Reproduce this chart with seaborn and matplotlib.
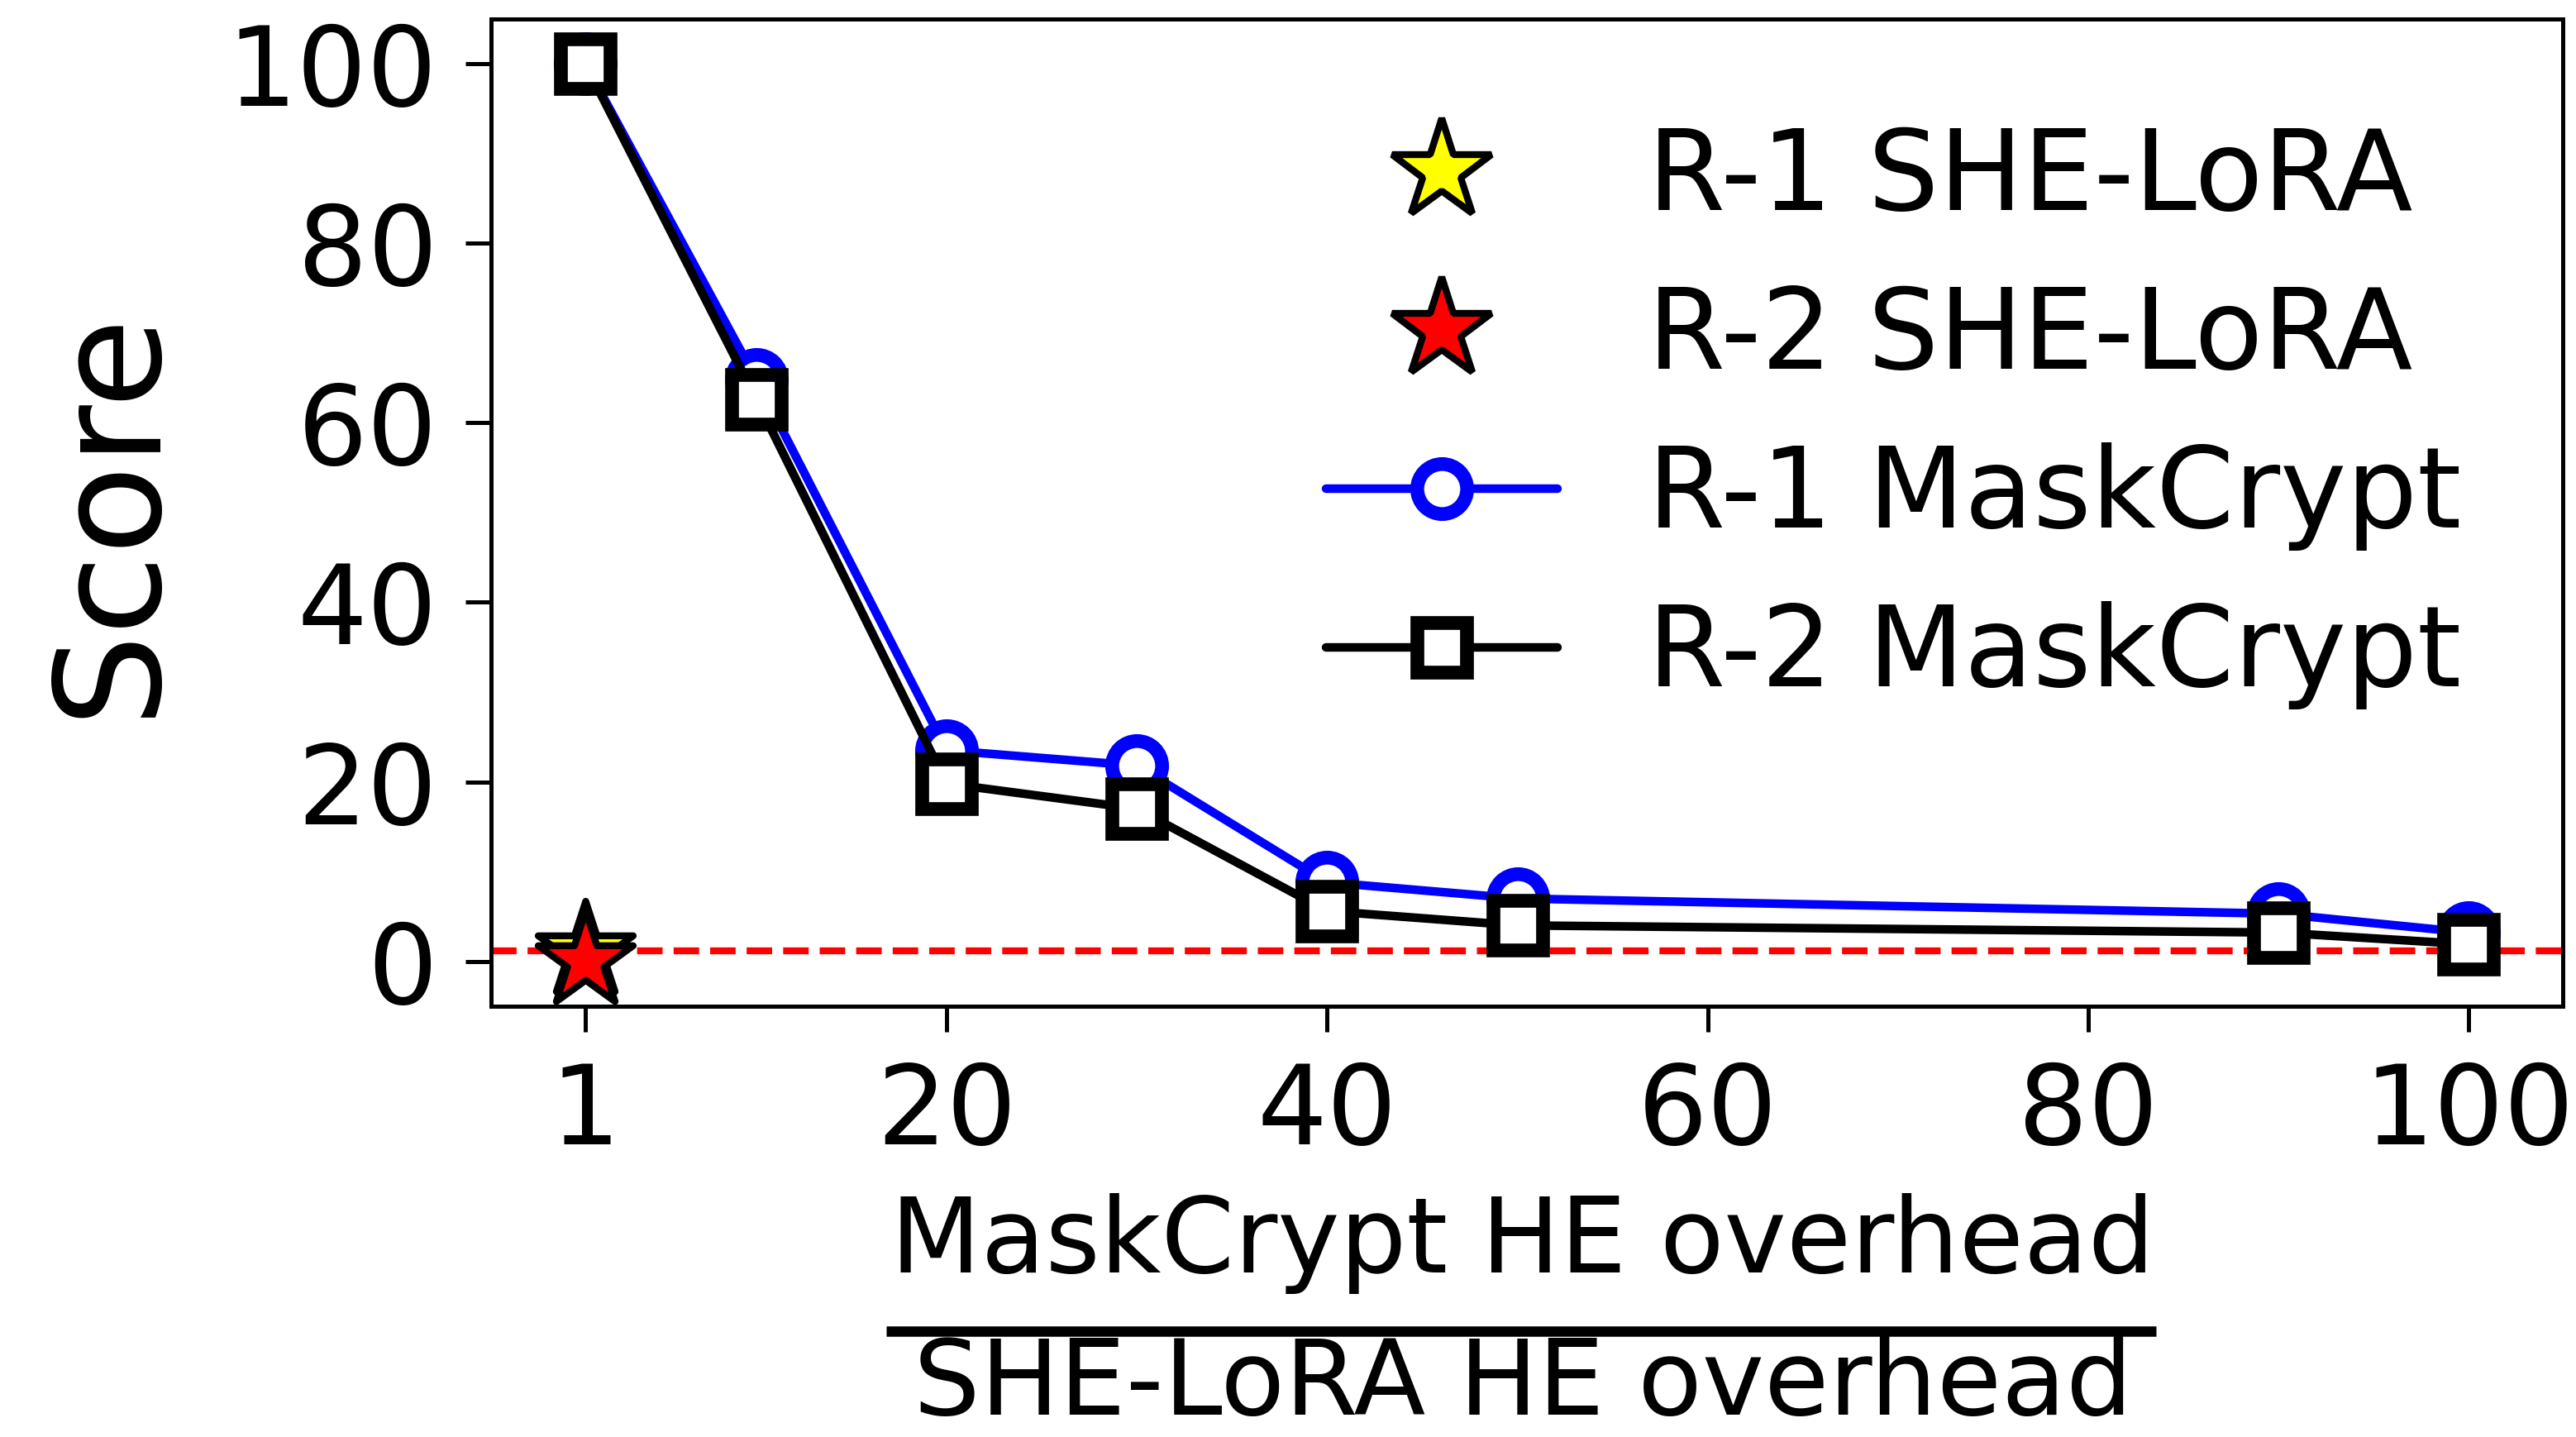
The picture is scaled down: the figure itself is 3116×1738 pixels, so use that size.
import numpy as np
import pandas as pd
import matplotlib.pyplot as plt
import seaborn as sns
from matplotlib.lines import Line2D

# data
ratio = [1, 10, 20, 30, 40, 50, 90, 100]
r1_maskcrypt = [100, 64.8, 23.5, 21.8, 8.8, 7.0, 5.3, 3.2]
r2_maskcrypt = [100, 62.6, 19.8, 17.0, 5.6, 4.0, 3.2, 1.9]
she_x = [1]
r1_shelora = [1.2]
r2_shelora = [0.1]
baseline = 1.2

xticks = [1, 20, 40, 60, 80, 100]
yticks = [0, 20, 40, 60, 80, 100]

sns.set_style("ticks")
plt.rcParams['font.family'] = ['DejaVu Sans']
plt.rcParams.update({"text.color": "black", "axes.labelcolor": "black",
                     "xtick.color": "black", "ytick.color": "black",
                     "axes.edgecolor": "black"})

fig, ax = plt.subplots(figsize=(3116 / 300, 1738 / 300), dpi=300)
fig.subplots_adjust(left=0.1906, right=0.9949, top=0.987, bottom=0.2998)

df = pd.DataFrame({"ratio": ratio, "r1": r1_maskcrypt, "r2": r2_maskcrypt})

# SHE-LoRA stars
sns.scatterplot(x=she_x, y=r1_shelora, marker="*", s=29**2, color="yellow",
                edgecolor="black", linewidth=2, ax=ax, zorder=4)
sns.scatterplot(x=she_x, y=r2_shelora, marker="*", s=29**2, color="red",
                edgecolor="black", linewidth=2, ax=ax, zorder=5)

# MaskCrypt curves
sns.lineplot(data=df, x="ratio", y="r1", color="blue", linewidth=2.5, marker="o",
             markersize=14.5, markeredgewidth=4, markerfacecolor="white",
             markeredgecolor="blue", ax=ax, zorder=2)
sns.lineplot(data=df, x="ratio", y="r2", color="black", linewidth=2.5, marker="s",
             markersize=14.5, markeredgewidth=4, markerfacecolor="white",
             markeredgecolor="black", ax=ax, zorder=3)

ax.axhline(baseline, color="red", linestyle="--", linewidth=2, zorder=1)

ax.set_xticks(xticks)
ax.set_yticks(yticks)
ax.set_xlim(-3.95, 104.95)
ax.set_ylim(-5, 105)
ax.tick_params(labelsize=32, length=7.5, width=1.2, pad=8)
for sp in ax.spines.values():
    sp.set_linewidth(1.2)
ax.set_xlabel("")
ax.set_ylabel("Score", fontsize=42.5, labelpad=13)

handles = [
    Line2D([], [], linestyle="", marker="*", markersize=30.5, markerfacecolor="yellow",
           markeredgecolor="black", markeredgewidth=2),
    Line2D([], [], linestyle="", marker="*", markersize=30.5, markerfacecolor="red",
           markeredgecolor="black", markeredgewidth=2),
    Line2D([], [], color="blue", linewidth=2.5, marker="o", markersize=14.5,
           markeredgewidth=4, markerfacecolor="white", markeredgecolor="blue"),
    Line2D([], [], color="black", linewidth=2.5, marker="s", markersize=14.5,
           markeredgewidth=4, markerfacecolor="white", markeredgecolor="black"),
]
labels = ["R-1 SHE-LoRA", "R-2 SHE-LoRA", "R-1 MaskCrypt", "R-2 MaskCrypt"]
ax.legend(handles, labels, loc="upper left", bbox_to_anchor=(1604 / 3116, 0.913),
          bbox_transform=fig.transFigure, frameon=False, fontsize=32.5,
          handlelength=2.07, handletextpad=0.8, labelspacing=0.45,
          borderpad=0, borderaxespad=0)

# fraction-style x label
fig.text(1842 / 3116, 1 - 1504 / 1738, "MaskCrypt HE overhead", fontsize=30.5,
         ha="center", va="center")
fig.add_artist(Line2D([1072 / 3116, 2608 / 3116], [1 - 1610 / 1738, 1 - 1610 / 1738],
                      color="black", linewidth=3, solid_capstyle="butt",
                      transform=fig.transFigure))
fig.text(1842 / 3116, 1 - 1676 / 1738, "SHE-LoRA HE overhead", fontsize=30.5,
         ha="center", va="center")

fig.savefig("out.png", dpi=300)
